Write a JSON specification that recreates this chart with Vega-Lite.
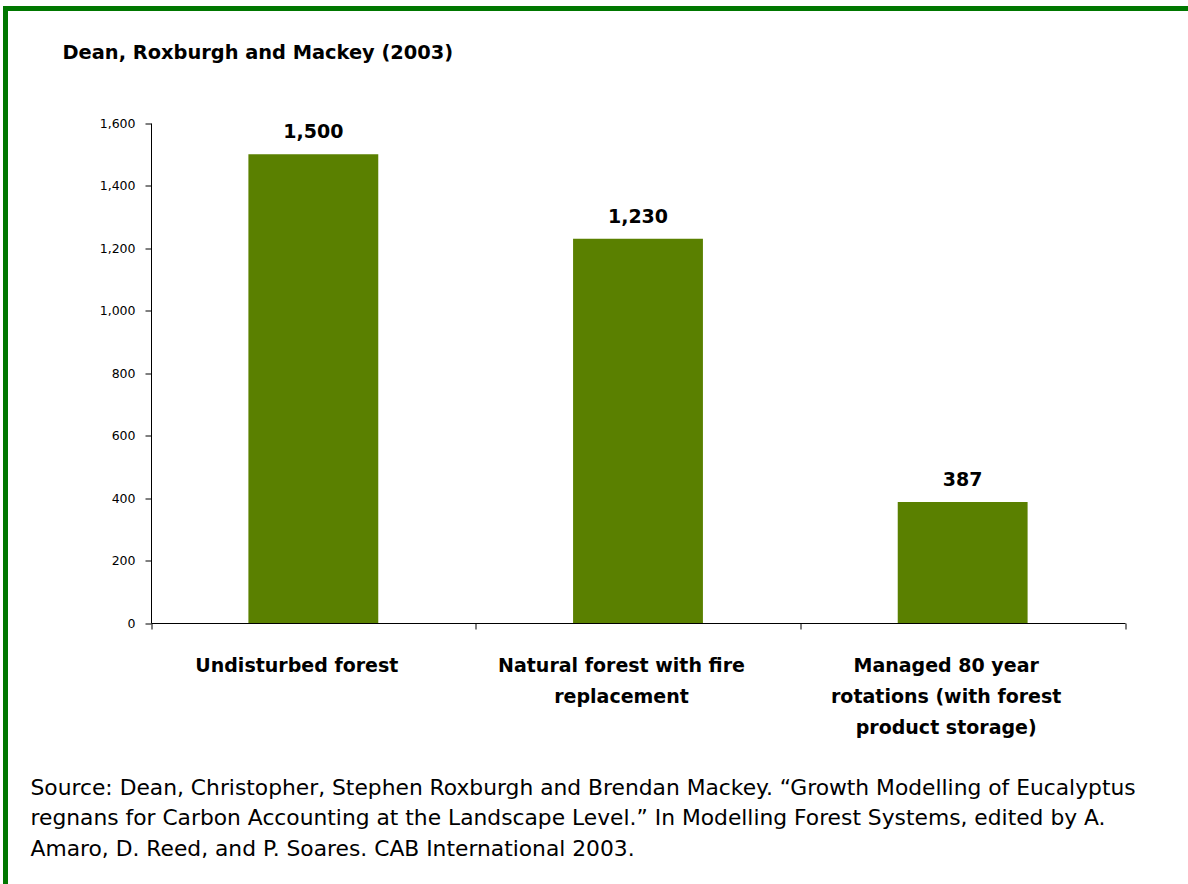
{
  "$schema": "https://vega.github.io/schema/vega-lite/v6.json",
  "autosize": {"type": "none"},
  "padding": {"left": 5.5, "top": 8.5, "right": -10, "bottom": -10},
  "width": 1192.5,
  "height": 885.5,
  "background": "white",
  "config": {
    "view": {"stroke": "#007700", "strokeWidth": 5},
    "axis": {"domainColor": "#000000", "tickColor": "#000000", "labelColor": "#000000", "grid": false}
  },
  "title": {
    "text": "Dean, Roxburgh and Mackey (2003)",
    "anchor": "start",
    "frame": "group",
    "orient": "top",
    "offset": -70,
    "dx": 57,
    "baseline": "alphabetic",
    "font": "DejaVu Sans",
    "fontSize": 19.4,
    "fontWeight": "bold",
    "color": "#000000"
  },
  "data": {
    "values": [
      {"forest": "Undisturbed forest", "carbon": 1500},
      {"forest": "Natural forest with fire replacement", "carbon": 1230},
      {"forest": "Managed 80 year rotations (with forest product storage)", "carbon": 387}
    ]
  },
  "encoding": {
    "x": {
      "field": "forest",
      "type": "nominal",
      "sort": null,
      "scale": {"type": "band", "range": [145.5, 1119.5], "paddingInner": 0, "paddingOuter": 0},
      "axis": {
        "orient": "bottom",
        "offset": -271,
        "tickBand": "extent",
        "tickSize": 6,
        "domainWidth": 1,
        "labelAngle": 0,
        "labelFont": "DejaVu Sans",
        "labelFontSize": 19,
        "labelFontWeight": "bold",
        "labelPadding": 27,
        "labelOffset": -17,
        "labelLimit": 0,
        "labelOverlap": false,
        "labelLineHeight": 31,
        "labelExpr": "datum.label == 'Natural forest with fire replacement' ? ['Natural forest with fire', 'replacement'] : datum.label == 'Managed 80 year rotations (with forest product storage)' ? ['Managed 80 year', 'rotations (with forest', 'product storage)'] : datum.label",
        "title": [
          "Source: Dean, Christopher, Stephen Roxburgh and Brendan Mackey. \u201cGrowth Modelling of Eucalyptus",
          "regnans for Carbon Accounting at the Landscape Level.\u201d In Modelling Forest Systems, edited by A.",
          "Amaro, D. Reed, and P. Soares. CAB International 2003."
        ],
        "titleFont": "DejaVu Sans",
        "titleFontSize": 21.8,
        "titleFontWeight": "normal",
        "titleColor": "#000000",
        "titleAlign": "left",
        "titleAnchor": "start",
        "titleBaseline": "alphabetic",
        "titleX": 24.5,
        "titleY": 171,
        "titleLineHeight": 30.5
      }
    },
    "y": {
      "field": "carbon",
      "type": "quantitative",
      "scale": {"domain": [0, 1600], "range": [614.5, 114.5], "nice": false, "zero": true},
      "axis": {
        "orient": "left",
        "offset": -145.5,
        "values": [0, 200, 400, 600, 800, 1000, 1200, 1400, 1600],
        "format": ",d",
        "tickSize": 6,
        "labelPadding": 10,
        "labelFont": "DejaVu Sans",
        "labelFontSize": 12.5,
        "title": null
      }
    }
  },
  "layer": [
    {
      "mark": {"type": "bar", "color": "#5a8000", "width": {"band": 0.4}}
    },
    {
      "mark": {
        "type": "text",
        "font": "DejaVu Sans",
        "fontSize": 19,
        "fontWeight": "bold",
        "baseline": "alphabetic",
        "dy": -16,
        "color": "#000000"
      },
      "encoding": {
        "text": {"field": "carbon", "type": "quantitative", "format": ",d"}
      }
    }
  ]
}
